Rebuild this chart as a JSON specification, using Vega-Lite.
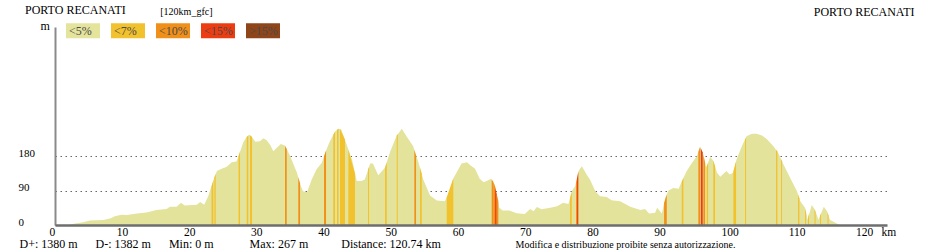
{
  "$schema": "https://vega.github.io/schema/vega-lite/v6.json",
  "width": 832,
  "height": 198,
  "autosize": {"type": "none"},
  "padding": {"left": 55, "top": 27, "right": 44, "bottom": 26},
  "background": "white",
  "title": {
    "text": "PORTO RECANATI",
    "anchor": "start",
    "frame": "group",
    "orient": "top",
    "font": "Liberation Serif",
    "fontSize": 12,
    "fontWeight": "normal",
    "color": "#000000",
    "dx": -30,
    "dy": 12,
    "offset": 0
  },
  "datasets": {
    "profile": [
      {"km": 0, "ele": 0}, {"km": 2.0, "ele": 0}, {"km": 2.5, "ele": 2}, {"km": 3.0, "ele": 4},
      {"km": 4.2, "ele": 7}, {"km": 5.2, "ele": 12}, {"km": 7.2, "ele": 13}, {"km": 8.2, "ele": 17},
      {"km": 8.9, "ele": 23}, {"km": 9.9, "ele": 27}, {"km": 10.7, "ele": 26}, {"km": 12.2, "ele": 30},
      {"km": 13.6, "ele": 33}, {"km": 15.1, "ele": 39}, {"km": 16.6, "ele": 42}, {"km": 17.1, "ele": 48},
      {"km": 18.1, "ele": 48}, {"km": 18.75, "ele": 58}, {"km": 19.3, "ele": 51}, {"km": 21.1, "ele": 53},
      {"km": 21.6, "ele": 60}, {"km": 22.2, "ele": 53}, {"km": 22.8, "ele": 75}, {"km": 23.6, "ele": 119},
      {"km": 23.9, "ele": 133}, {"km": 24.1, "ele": 141}, {"km": 24.8, "ele": 147}, {"km": 25.5, "ele": 152},
      {"km": 26.3, "ele": 164}, {"km": 27.0, "ele": 166}, {"km": 27.3, "ele": 180}, {"km": 27.5, "ele": 190},
      {"km": 28.0, "ele": 216}, {"km": 28.5, "ele": 230}, {"km": 28.9, "ele": 236}, {"km": 29.3, "ele": 230},
      {"km": 29.8, "ele": 218}, {"km": 30.5, "ele": 219}, {"km": 31.0, "ele": 227}, {"km": 31.5, "ele": 222},
      {"km": 32.0, "ele": 210}, {"km": 32.5, "ele": 193}, {"km": 33.0, "ele": 202}, {"km": 33.6, "ele": 212},
      {"km": 34.2, "ele": 208}, {"km": 34.5, "ele": 198}, {"km": 35.0, "ele": 180}, {"km": 36.0, "ele": 137},
      {"km": 36.5, "ele": 106}, {"km": 36.9, "ele": 88}, {"km": 37.5, "ele": 86}, {"km": 38.2, "ele": 119},
      {"km": 38.9, "ele": 145}, {"km": 39.7, "ele": 163}, {"km": 40.2, "ele": 189}, {"km": 40.9, "ele": 219},
      {"km": 41.7, "ele": 245}, {"km": 42.2, "ele": 252}, {"km": 42.6, "ele": 250}, {"km": 43.3, "ele": 215},
      {"km": 44.2, "ele": 171}, {"km": 44.9, "ele": 115}, {"km": 45.6, "ele": 115}, {"km": 46.1, "ele": 119},
      {"km": 46.9, "ele": 161}, {"km": 47.3, "ele": 161}, {"km": 48.1, "ele": 130}, {"km": 49.1, "ele": 150},
      {"km": 49.9, "ele": 193}, {"km": 50.8, "ele": 232}, {"km": 51.6, "ele": 252}, {"km": 52.3, "ele": 232},
      {"km": 53.3, "ele": 206}, {"km": 54.1, "ele": 163}, {"km": 54.8, "ele": 119}, {"km": 55.8, "ele": 77},
      {"km": 56.8, "ele": 64}, {"km": 58.0, "ele": 62}, {"km": 58.5, "ele": 80}, {"km": 59.3, "ele": 123},
      {"km": 60.0, "ele": 145}, {"km": 60.5, "ele": 161}, {"km": 61.3, "ele": 164}, {"km": 61.8, "ele": 156},
      {"km": 62.5, "ele": 147}, {"km": 63.2, "ele": 121}, {"km": 63.8, "ele": 112}, {"km": 64.3, "ele": 116},
      {"km": 64.9, "ele": 121}, {"km": 65.4, "ele": 106}, {"km": 65.9, "ele": 67}, {"km": 66.1, "ele": 45},
      {"km": 66.6, "ele": 38}, {"km": 67.6, "ele": 38}, {"km": 68.7, "ele": 31}, {"km": 69.9, "ele": 29},
      {"km": 70.7, "ele": 42}, {"km": 71.2, "ele": 36}, {"km": 71.7, "ele": 47}, {"km": 72.4, "ele": 41},
      {"km": 73.7, "ele": 45}, {"km": 74.7, "ele": 49}, {"km": 75.6, "ele": 58}, {"km": 76.4, "ele": 55},
      {"km": 76.9, "ele": 88}, {"km": 77.4, "ele": 102}, {"km": 77.9, "ele": 141}, {"km": 78.4, "ele": 154},
      {"km": 79.1, "ele": 132}, {"km": 79.6, "ele": 119}, {"km": 80.4, "ele": 88}, {"km": 81.1, "ele": 75},
      {"km": 82.1, "ele": 73}, {"km": 82.8, "ele": 65}, {"km": 84.1, "ele": 62}, {"km": 85.6, "ele": 48},
      {"km": 87.1, "ele": 39}, {"km": 87.8, "ele": 42}, {"km": 88.4, "ele": 30}, {"km": 89.3, "ele": 32},
      {"km": 89.6, "ele": 45}, {"km": 90.3, "ele": 30}, {"km": 90.8, "ele": 71}, {"km": 91.3, "ele": 90},
      {"km": 92.0, "ele": 97}, {"km": 92.8, "ele": 95}, {"km": 93.5, "ele": 123}, {"km": 94.0, "ele": 141},
      {"km": 94.8, "ele": 163}, {"km": 95.5, "ele": 180}, {"km": 96.0, "ele": 205}, {"km": 96.4, "ele": 189},
      {"km": 96.9, "ele": 150}, {"km": 97.5, "ele": 178}, {"km": 98.0, "ele": 167}, {"km": 98.5, "ele": 137},
      {"km": 99.0, "ele": 126}, {"km": 99.9, "ele": 141}, {"km": 100.4, "ele": 132}, {"km": 100.9, "ele": 137},
      {"km": 101.4, "ele": 171}, {"km": 102.2, "ele": 206}, {"km": 102.9, "ele": 232}, {"km": 103.7, "ele": 239},
      {"km": 104.4, "ele": 239}, {"km": 105.2, "ele": 234}, {"km": 105.9, "ele": 225}, {"km": 106.9, "ele": 206},
      {"km": 107.6, "ele": 189}, {"km": 108.4, "ele": 158}, {"km": 109.4, "ele": 123}, {"km": 110.4, "ele": 88},
      {"km": 110.9, "ele": 62}, {"km": 111.6, "ele": 45}, {"km": 112.0, "ele": 14}, {"km": 112.6, "ele": 52},
      {"km": 113.1, "ele": 39}, {"km": 113.6, "ele": 14}, {"km": 114.4, "ele": 48}, {"km": 114.9, "ele": 35},
      {"km": 115.3, "ele": 14}, {"km": 116.1, "ele": 6}, {"km": 116.8, "ele": 0}, {"km": 120.74, "ele": 0}
    ],
    "stripes": [
      {"seg": 1, "grade": "<7%", "km": 23.29, "ele": 101}, {"seg": 1, "grade": "<7%", "km": 23.56, "ele": 117},
      {"seg": 2, "grade": "<7%", "km": 23.71, "ele": 124}, {"seg": 2, "grade": "<7%", "km": 23.91, "ele": 134},
      {"seg": 3, "grade": "<7%", "km": 27.31, "ele": 180}, {"seg": 3, "grade": "<7%", "km": 27.53, "ele": 192},
      {"seg": 4, "grade": "<7%", "km": 28.53, "ele": 230}, {"seg": 4, "grade": "<7%", "km": 28.76, "ele": 234},
      {"seg": 5, "grade": "<7%", "km": 29.02, "ele": 235}, {"seg": 5, "grade": "<7%", "km": 29.32, "ele": 230},
      {"seg": 6, "grade": "<10%", "km": 34.23, "ele": 207}, {"seg": 6, "grade": "<10%", "km": 34.48, "ele": 199},
      {"seg": 7, "grade": "<10%", "km": 36.2, "ele": 125}, {"seg": 7, "grade": "<10%", "km": 36.46, "ele": 109},
      {"seg": 8, "grade": "<10%", "km": 40.03, "ele": 180}, {"seg": 8, "grade": "<10%", "km": 40.33, "ele": 194},
      {"seg": 9, "grade": "<7%", "km": 41.41, "ele": 236}, {"seg": 9, "grade": "<7%", "km": 41.67, "ele": 244},
      {"seg": 10, "grade": "<7%", "km": 41.96, "ele": 249}, {"seg": 10, "grade": "<7%", "km": 42.19, "ele": 252},
      {"seg": 11, "grade": "<7%", "km": 42.41, "ele": 251}, {"seg": 11, "grade": "<7%", "km": 43.15, "ele": 223},
      {"seg": 12, "grade": "<7%", "km": 43.65, "ele": 197}, {"seg": 12, "grade": "<7%", "km": 44.64, "ele": 134},
      {"seg": 13, "grade": "<7%", "km": 46.58, "ele": 145}, {"seg": 13, "grade": "<7%", "km": 46.73, "ele": 152},
      {"seg": 14, "grade": "<7%", "km": 49.11, "ele": 150}, {"seg": 14, "grade": "<7%", "km": 49.36, "ele": 164},
      {"seg": 15, "grade": "<7%", "km": 50.85, "ele": 234}, {"seg": 15, "grade": "<7%", "km": 51.0, "ele": 238},
      {"seg": 16, "grade": "<10%", "km": 53.47, "ele": 197}, {"seg": 16, "grade": "<10%", "km": 53.72, "ele": 182},
      {"seg": 17, "grade": "<7%", "km": 54.32, "ele": 150}, {"seg": 17, "grade": "<7%", "km": 54.57, "ele": 134},
      {"seg": 18, "grade": "<7%", "km": 58.29, "ele": 72}, {"seg": 18, "grade": "<7%", "km": 59.27, "ele": 122},
      {"seg": 19, "grade": "<10%", "km": 64.98, "ele": 119}, {"seg": 19, "grade": "<10%", "km": 65.22, "ele": 113},
      {"seg": 20, "grade": "<10%", "km": 65.22, "ele": 113}, {"seg": 20, "grade": "<10%", "km": 65.48, "ele": 101},
      {"seg": 21, "grade": "<15%", "km": 65.48, "ele": 101}, {"seg": 21, "grade": "<15%", "km": 65.73, "ele": 80},
      {"seg": 22, "grade": "<10%", "km": 65.73, "ele": 80}, {"seg": 22, "grade": "<10%", "km": 65.97, "ele": 63},
      {"seg": 23, "grade": "<7%", "km": 76.64, "ele": 70}, {"seg": 23, "grade": "<7%", "km": 76.89, "ele": 87},
      {"seg": 24, "grade": "<10%", "km": 77.53, "ele": 112}, {"seg": 24, "grade": "<10%", "km": 77.68, "ele": 122},
      {"seg": 25, "grade": "<15%", "km": 77.68, "ele": 122}, {"seg": 25, "grade": "<15%", "km": 77.87, "ele": 139},
      {"seg": 26, "grade": "<10%", "km": 90.63, "ele": 57}, {"seg": 26, "grade": "<10%", "km": 91.03, "ele": 80},
      {"seg": 27, "grade": "<7%", "km": 93.26, "ele": 113}, {"seg": 27, "grade": "<7%", "km": 93.5, "ele": 123},
      {"seg": 28, "grade": "<10%", "km": 95.73, "ele": 191}, {"seg": 28, "grade": "<10%", "km": 95.98, "ele": 204},
      {"seg": 29, "grade": "<15%", "km": 96.09, "ele": 201}, {"seg": 29, "grade": "<15%", "km": 96.38, "ele": 190},
      {"seg": 30, "grade": "<10%", "km": 96.47, "ele": 183}, {"seg": 30, "grade": "<10%", "km": 96.73, "ele": 163},
      {"seg": 31, "grade": "<7%", "km": 96.98, "ele": 154}, {"seg": 31, "grade": "<7%", "km": 97.17, "ele": 162},
      {"seg": 32, "grade": "<7%", "km": 97.96, "ele": 168}, {"seg": 32, "grade": "<7%", "km": 98.21, "ele": 154},
      {"seg": 33, "grade": "<7%", "km": 100.94, "ele": 140}, {"seg": 33, "grade": "<7%", "km": 101.34, "ele": 167},
      {"seg": 34, "grade": "<7%", "km": 102.68, "ele": 224}, {"seg": 34, "grade": "<7%", "km": 102.83, "ele": 228},
      {"seg": 35, "grade": "<7%", "km": 107.29, "ele": 197}, {"seg": 35, "grade": "<7%", "km": 107.49, "ele": 192},
      {"seg": 36, "grade": "<7%", "km": 108.04, "ele": 172}, {"seg": 36, "grade": "<7%", "km": 108.18, "ele": 167},
      {"seg": 37, "grade": "<7%", "km": 110.57, "ele": 80}, {"seg": 37, "grade": "<7%", "km": 110.76, "ele": 70},
      {"seg": 38, "grade": "<7%", "km": 111.61, "ele": 44}, {"seg": 38, "grade": "<7%", "km": 111.76, "ele": 32},
      {"seg": 39, "grade": "<7%", "km": 112.05, "ele": 19}, {"seg": 39, "grade": "<7%", "km": 112.2, "ele": 30},
      {"seg": 40, "grade": "<7%", "km": 113.02, "ele": 41}, {"seg": 40, "grade": "<7%", "km": 113.17, "ele": 34},
      {"seg": 41, "grade": "<7%", "km": 113.84, "ele": 24}, {"seg": 41, "grade": "<7%", "km": 113.99, "ele": 30},
      {"seg": 42, "grade": "<7%", "km": 114.96, "ele": 33}, {"seg": 42, "grade": "<7%", "km": 115.1, "ele": 25}
    ]
  },
  "layer": [
    {
      "data": {"name": "profile"},
      "mark": {"type": "area", "color": "#e3e39b", "interpolate": "linear"},
      "encoding": {
        "x": {
          "field": "km", "type": "quantitative",
          "scale": {"domain": [0, 123.8], "nice": false, "zero": false},
          "axis": {
            "orient": "bottom",
            "values": [0, 10, 20, 30, 40, 50, 60, 70, 80, 90, 100, 110, 120, 123.8],
            "labelExpr": "datum.value > 121 ? 'km' : datum.label",
            "ticks": false, "tickSize": 0, "grid": false,
            "domainColor": "#6e6e6e", "domainWidth": 2.5,
            "labelAlign": "left", "labelOffset": -6, "labelPadding": 10,
            "labelBaseline": "alphabetic",
            "labelFont": "Liberation Serif", "labelFontSize": 11.5, "labelColor": "#000000",
            "labelFlush": false, "labelOverlap": false,
            "zindex": 1,
            "title": "Modifica e distribuzione proibite senza autorizzazione.",
            "titleFont": "Liberation Serif", "titleFontSize": 10, "titleFontWeight": "normal",
            "titleColor": "#000000", "titleX": 460, "titleY": 22,
            "titleAlign": "left", "titleBaseline": "alphabetic", "titleAngle": 0
          }
        },
        "y": {
          "field": "ele", "type": "quantitative",
          "scale": {"domain": [0, 518], "nice": false},
          "axis": {
            "orient": "left",
            "values": [0, 90, 180],
            "grid": true, "gridDash": [1.5, 3.5], "gridColor": "#666666", "gridWidth": 1,
            "ticks": false, "tickSize": 0,
            "domainColor": "#8a8a8a", "domainWidth": 2,
            "labelAlign": "left", "labelPadding": 37, "labelBaseline": "alphabetic",
            "labelFont": "Liberation Serif", "labelFontSize": 11, "labelColor": "#000000",
            "labelFlush": false, "labelOverlap": false,
            "zindex": 0,
            "title": "m",
            "titleFont": "Liberation Serif", "titleFontSize": 12, "titleFontWeight": "normal",
            "titleColor": "#000000", "titleAngle": 0, "titleX": -15, "titleY": 2.5,
            "titleAlign": "left", "titleBaseline": "alphabetic"
          }
        }
      }
    },
    {
      "data": {"name": "stripes"},
      "mark": {"type": "area", "interpolate": "linear", "opacity": 1},
      "encoding": {
        "x": {
          "field": "km", "type": "quantitative",
          "axis": {
            "orient": "top", "domain": false, "ticks": false, "labels": false, "grid": false,
            "title": "PORTO RECANATI",
            "titleFont": "Liberation Serif", "titleFontSize": 12, "titleFontWeight": "normal",
            "titleColor": "#000000", "titleX": 859, "titleY": -12,
            "titleAlign": "right", "titleBaseline": "alphabetic", "titleAngle": 0
          }
        },
        "y": {
          "field": "ele", "type": "quantitative", "stack": null,
          "axis": {
            "orient": "right", "domain": false, "ticks": false, "labels": false, "grid": false,
            "title": "D+: 1380 m\u00a0\u00a0\u00a0\u00a0\u00a0\u00a0D-: 1382 m\u00a0\u00a0\u00a0\u00a0\u00a0\u00a0Min: 0 m\u00a0\u00a0\u00a0\u00a0\u00a0\u00a0\u00a0\u00a0\u00a0\u00a0\u00a0\u00a0Max: 267 m\u00a0\u00a0\u00a0\u00a0\u00a0\u00a0\u00a0\u00a0\u00a0\u00a0\u00a0Distance: 120.74 km",
            "titleFont": "Liberation Serif", "titleFontSize": 12, "titleFontWeight": "normal",
            "titleColor": "#000000", "titleX": -868, "titleY": 220,
            "titleAlign": "left", "titleBaseline": "alphabetic", "titleAngle": 0
          }
        },
        "color": {
          "field": "grade", "type": "nominal",
          "scale": {
            "domain": ["<5%", "<7%", "<10%", "<15%", ">15%"],
            "range": ["#e4e49c", "#f2c12e", "#f0901a", "#ee3c12", "#8f4517"]
          },
          "legend": {
            "orient": "none", "legendX": 11, "legendY": -20.5,
            "direction": "horizontal",
            "title": "[120km_gfc]\u00a0\u00a0\u00a0\u00a0\u00a0\u00a0\u00a0\u00a0\u00a0\u00a0\u00a0\u00a0\u00a0\u00a0\u00a0\u00a0\u00a0\u00a0\u00a0\u00a0\u00a0\u00a0\u00a0\u00a0\u00a0\u00a0\u00a0\u200b",
            "titleOrient": "top", "titleAnchor": "end", "titleAlign": "right",
            "titleBaseline": "top", "titlePadding": -3, "titleLimit": 0,
            "titleFont": "Liberation Serif", "titleFontSize": 10, "titleFontWeight": "normal",
            "titleColor": "#000000",
            "symbolType": "M-1,-0.44H1V0.44H-1Z", "symbolSize": 1156,
            "symbolStrokeWidth": 0, "symbolOpacity": 1,
            "labelOffset": -31, "labelFont": "Liberation Serif", "labelFontSize": 12,
            "labelColor": "#4a4a4a", "labelLimit": 0,
            "columnPadding": 11, "padding": 0
          }
        },
        "detail": {"field": "seg", "type": "nominal"}
      }
    }
  ],
  "resolve": {"axis": {"x": "independent", "y": "independent"}},
  "config": {
    "view": {"stroke": null},
    "font": "Liberation Serif"
  }
}
